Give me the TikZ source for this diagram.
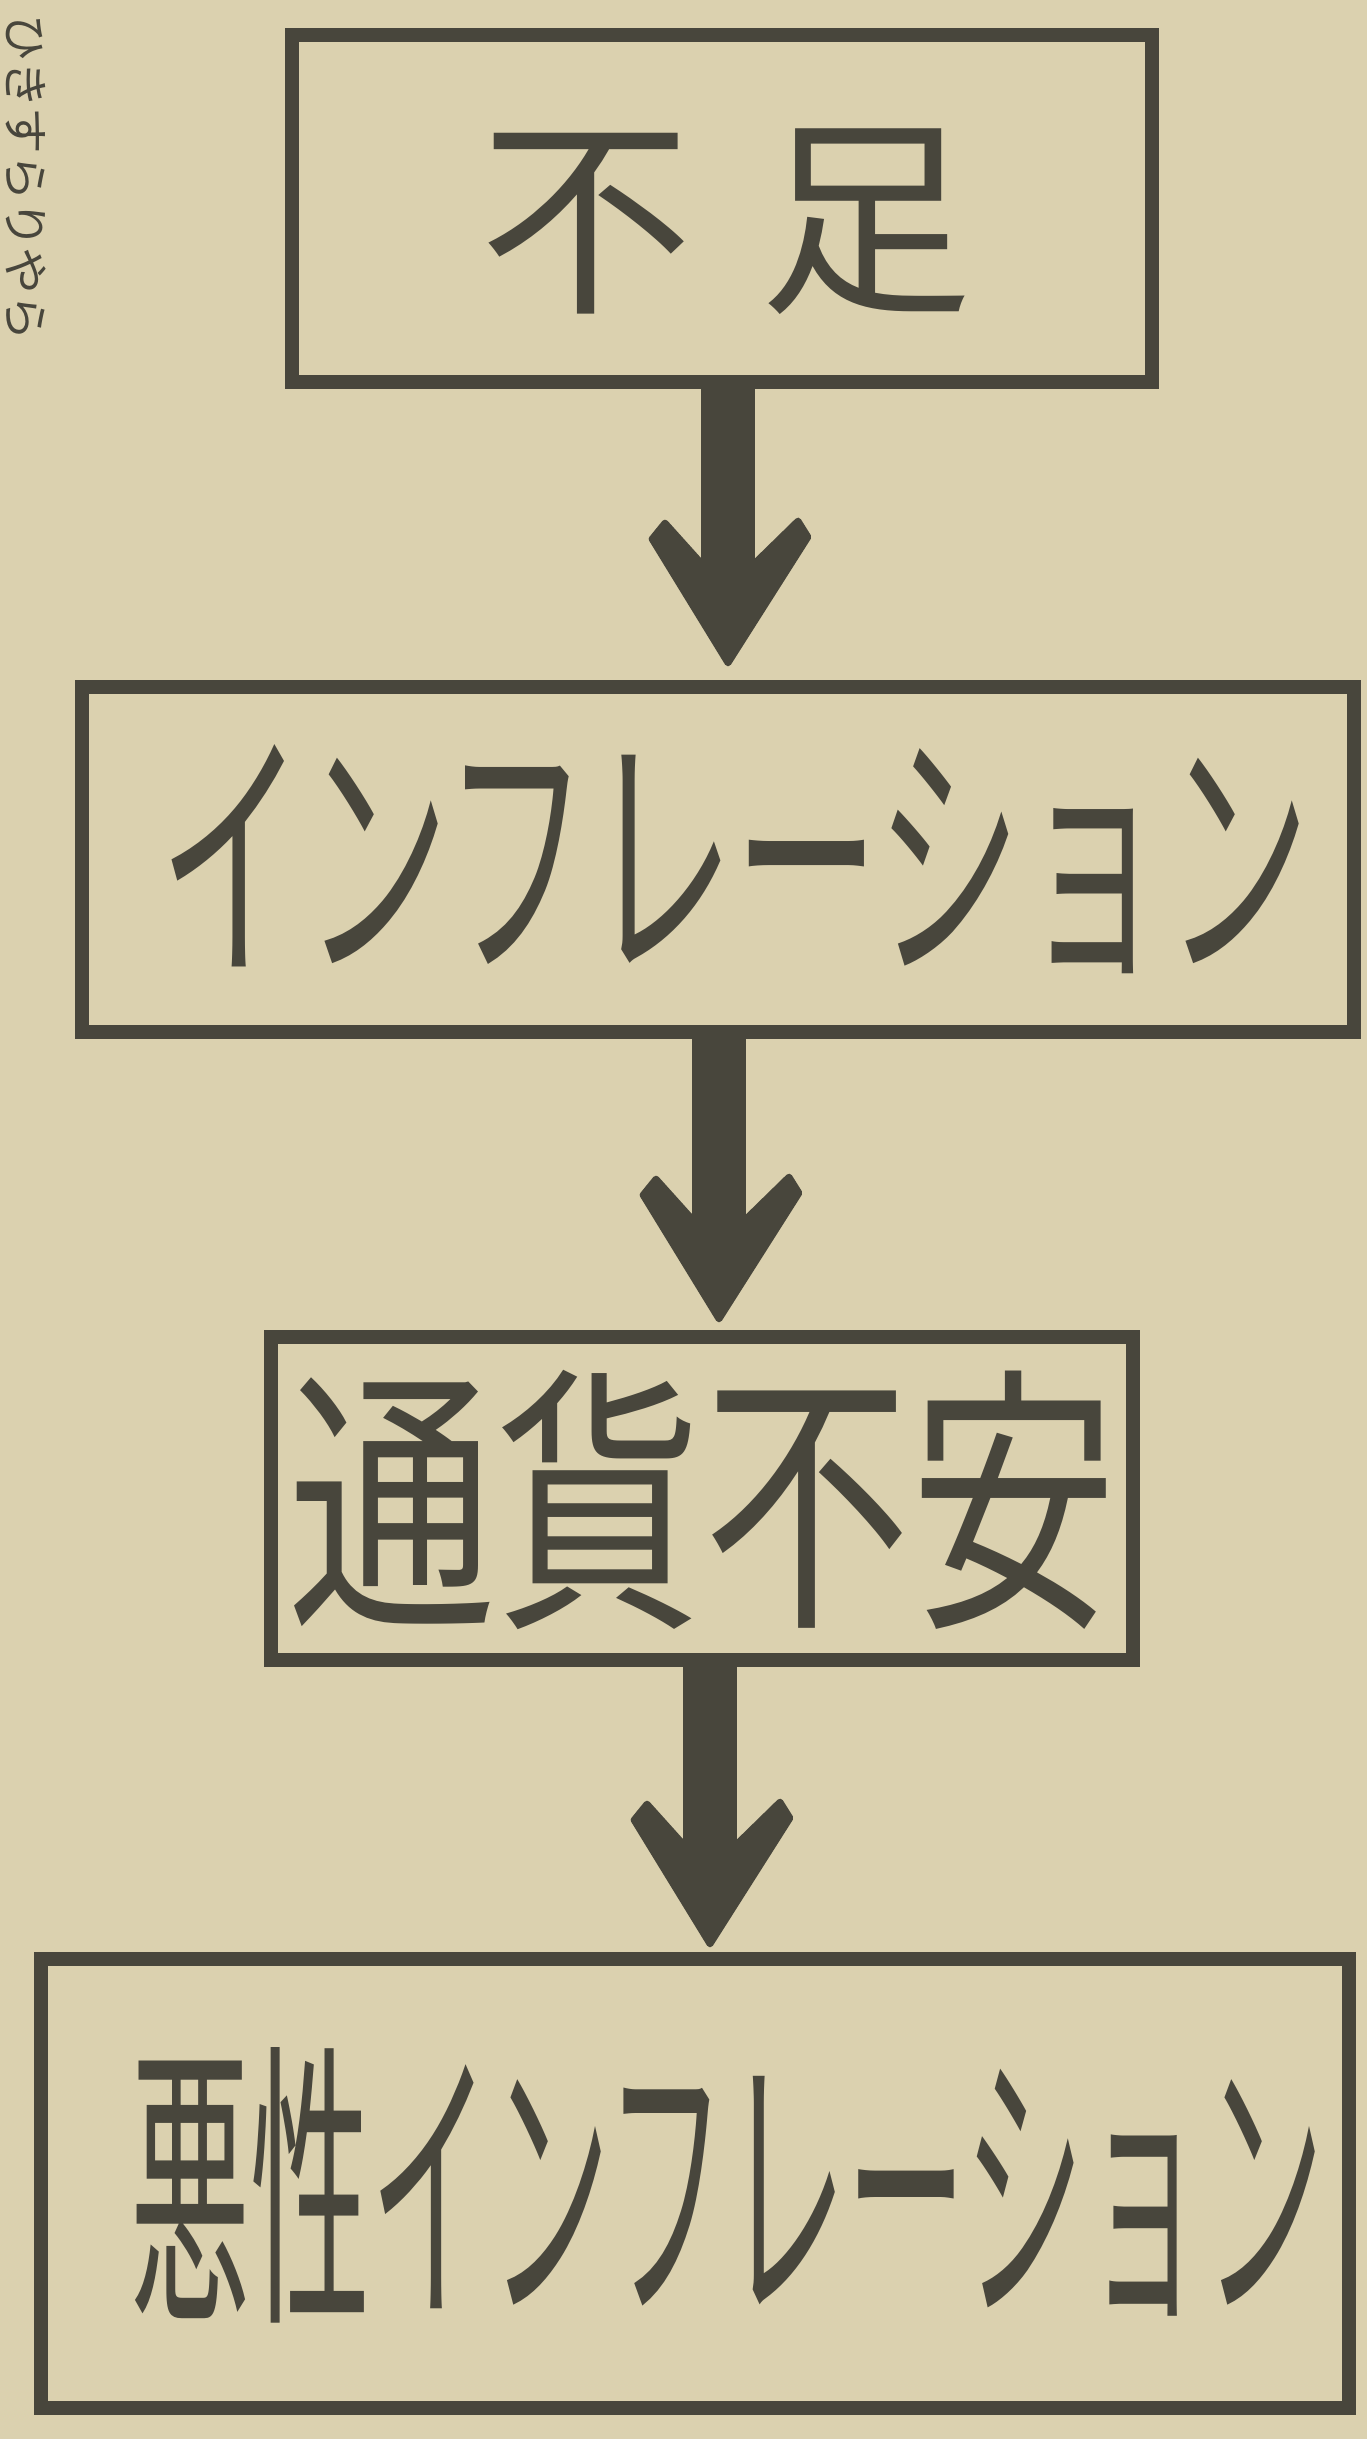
\documentclass[tikz,border=0pt]{standalone}
\usepackage{fontspec}
\newfontfamily\jp{Noto Sans CJK JP}
\usetikzlibrary{calc}
\definecolor{paper}{RGB}{219,209,175}
\definecolor{ink}{RGB}{72,70,60}
\tikzset{
  box/.style={draw=ink, line width=4.2pt, inner sep=0pt, outer sep=0pt, text=ink, rectangle},
  shaft/.style={draw=ink, line width=16pt},
  headfill/.style={fill=ink, draw=ink, line width=2pt, line join=round},
}
\begin{document}
\begin{tikzpicture}[x=0.3pt, y=-0.3pt]
\fill[paper] (0,0) rectangle (1367,2439);
\useasboundingbox (0,0) rectangle (1367,2439);
% margin text
\node[text=ink, rotate=-90, inner sep=0pt, font=\jp\fontsize{14pt}{14pt}\selectfont] (m) at (26,178) {ひきすらりやら};
% boxes
\node[box, minimum width=258pt, minimum height=104.1pt] (b1) at (722,208.5) {};
\node[text=ink, font=\jp\fontsize{64pt}{70pt}\selectfont] (l1) at (726,222) {不\hspace{20pt}足};
\node[box, minimum width=381.6pt, minimum height=103.5pt] (b2) at (718,859.5) {};
\node[text=ink, font=\jp\fontsize{82pt}{86pt}\selectfont] (l2) at (735,859) {\scalebox{0.53}[1]{インフレーション}};
\node[box, minimum width=258.6pt, minimum height=96.9pt] (b3) at (702,1498.5) {};
\node[text=ink, font=\jp\fontsize{84pt}{88pt}\selectfont] (l3) at (703,1500) {\scalebox{0.74}[1]{通貨不安}};
\node[box, minimum width=392.4pt, minimum height=134.7pt] (b4) at (695,2183.5) {};
\node[text=ink, font=\jp\fontsize{90pt}{94pt}\selectfont] (l4) at (727,2185) {\scalebox{0.40}[1]{悪性インフレーション}};
% arrows
\coordinate (t1) at (728,663);
\coordinate (t2) at (719,1319);
\coordinate (t3) at (710,1944);
\foreach \t/\s in {t1/b1,t2/b2,t3/b3}{
  \draw[shaft] (\s.south -| \t) -- ($(\t)+(0,-95)$);
  \filldraw[headfill] ($(\t)+(-76,-124)$) -- (\t) -- ($(\t)+(80,-126)$)
     -- ($(\t)+(70,-142)$) -- ($(\t)+(27,-100)$) -- ($(\t)+(-27,-100)$)
     -- ($(\t)+(-63,-140)$) -- cycle;
}
\end{tikzpicture}
\end{document}
